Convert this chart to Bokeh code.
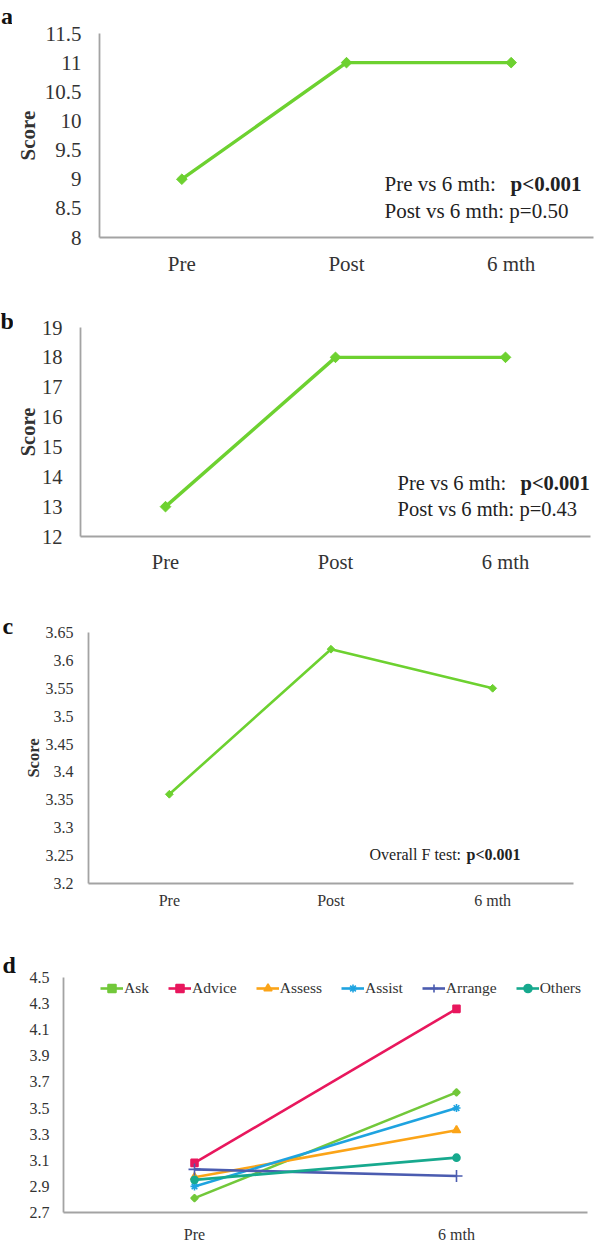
import math

from bokeh.core.properties import value
from bokeh.embed import file_html
from bokeh.layouts import column, row
from bokeh.models import FactorRange, FixedTicker, Label, Legend, LegendItem, Range1d
from bokeh.plotting import figure
from bokeh.resources import INLINE

SERIF = "Liberation Serif"
INK = "#333333"
AXIS_GREY = "#a3a3a3"
SCORE_GREEN = "#6dd130"
PAGE_W = 594

# ---- panel a: knowledge score ----
a_times = ["Pre", "Post", "6 mth"]
a_scores = [9, 11, 11]
a_ticks = [8, 8.5, 9, 9.5, 10, 10.5, 11, 11.5]
a_tick_labels = ["8", "8.5", "9", "9.5", "10", "10.5", "11", "11.5"]

# ---- panel b ----
b_times = ["Pre", "Post", "6 mth"]
b_scores = [13, 18, 18]
b_ticks = [12, 13, 14, 15, 16, 17, 18, 19]
b_tick_labels = ["12", "13", "14", "15", "16", "17", "18", "19"]

# ---- panel c ----
c_times = ["Pre", "Post", "6 mth"]
c_scores = [3.36, 3.62, 3.55]
c_ticks = [3.2, 3.25, 3.3, 3.35, 3.4, 3.45, 3.5, 3.55, 3.6, 3.65]
c_tick_labels = ["3.2", "3.25", "3.3", "3.35", "3.4", "3.45", "3.5", "3.55", "3.6", "3.65"]

# ---- panel d: the 5A components ----
d_times = ["Pre", "6 mth"]
d_names = ["Ask", "Advice", "Assess", "Assist", "Arrange", "Others"]
d_ask = [2.81, 3.62]
d_advice = [3.08, 4.26]
d_assess = [2.97, 3.33]
d_assist = [2.90, 3.50]
d_arrange = [3.03, 2.98]
d_others = [2.95, 3.12]
d_ticks = [2.7, 2.9, 3.1, 3.3, 3.5, 3.7, 3.9, 4.1, 4.3, 4.5]
d_tick_labels = ["2.7", "2.9", "3.1", "3.3", "3.5", "3.7", "3.9", "4.1", "4.3", "4.5"]

panel_letters = ["a", "b", "c", "d"]


def base_figure(factors, ticks, tick_labels, height, strip, left, right, top, bottom,
                font_px, y_standoff, x_standoff):
    p = figure(width=PAGE_W - strip, height=height,
               x_range=FactorRange(factors=factors),
               y_range=Range1d(ticks[0], ticks[-1]),
               output_backend="svg", toolbar_location=None,
               min_border_left=left - strip, min_border_right=right,
               min_border_top=top, min_border_bottom=bottom)
    # each panel keeps its own frame geometry inside the layout
    p.frame_align = False
    p.outline_line_color = None
    p.xgrid.visible = False
    p.ygrid.visible = False
    for ax in (p.xaxis[0], p.yaxis[0]):
        ax.axis_line_color = AXIS_GREY
        ax.axis_line_width = 1.8
        ax.major_tick_line_color = None
        ax.minor_tick_line_color = None
        ax.major_tick_out = 0
        ax.major_tick_in = 0
        ax.major_label_text_font = SERIF
        ax.major_label_text_color = INK
        ax.major_label_text_font_size = font_px
    p.yaxis.ticker = FixedTicker(ticks=ticks)
    p.yaxis.major_label_overrides = dict(zip(ticks, tick_labels))
    p.yaxis.major_label_standoff = y_standoff
    p.xaxis.major_label_standoff = x_standoff
    return p


def letter_strip(letter, width, height, x, baseline):
    # narrow margin figure whose data units are pixels measured from the top
    s = figure(width=width, height=height, x_range=Range1d(0, width),
               y_range=Range1d(height, 0), output_backend="svg",
               toolbar_location=None, x_axis_location=None, y_axis_location=None,
               min_border=0)
    s.frame_align = False
    s.outline_line_color = None
    s.xgrid.visible = False
    s.ygrid.visible = False
    s.text(x=[x], y=[baseline], text=[letter], text_font=value(SERIF),
           text_font_style="bold", text_font_size="24px", text_color="#111111",
           text_align="left", text_baseline="alphabetic")
    return s


def score_label(p, size, standoff):
    p.yaxis.axis_label = "Score"
    p.yaxis.axis_label_text_font = SERIF
    p.yaxis.axis_label_text_font_style = "bold"
    p.yaxis.axis_label_text_font_size = size
    p.yaxis.axis_label_text_color = INK
    p.yaxis.axis_label_standoff = standoff


def note(p, text, x, y, size, bold=False):
    p.add_layout(Label(x=x, y=y, x_units="screen", y_units="screen", text=text,
                       text_font=SERIF, text_font_size=size,
                       text_font_style="bold" if bold else "normal",
                       text_color="#222222", text_align="left",
                       text_baseline="middle"))


def green_trend(p, times, scores, width, marker_size):
    p.line(times, scores, line_color=SCORE_GREEN, line_width=width)
    p.scatter(times, scores, marker="square", angle=math.pi / 4, size=marker_size,
              color=SCORE_GREEN)


# (strip width, letter x, letter baseline) for each panel row
strips = [(12, 0.5, 15), (13, 0, 20), (16, 2, 20), (16, 2, 39)]

# panel a
pa = base_figure(a_times, a_ticks, a_tick_labels, 300, strips[0][0], 98, 1, 33, 63,
                 "21px", 18, 14)
score_label(pa, "21px", 2)
green_trend(pa, a_times, a_scores, 3.4, 7.5)
note(pa, "Pre  vs 6 mth:", 285, 54, "21px")
note(pa, "p<0.001", 411, 54, "21px", bold=True)
note(pa, "Post vs 6 mth: p=0.50", 285, 27, "21px")

# panel b
pb = base_figure(b_times, b_ticks, b_tick_labels, 305, strips[1][0], 80, 4, 27, 69,
                 "20.5px", 18, 14)
score_label(pb, "20.5px", 0)
green_trend(pb, b_times, b_scores, 3.4, 7.5)
note(pb, "Pre  vs 6 mth:", 317, 54, "20.5px")
note(pb, "p<0.001", 440, 54, "20.5px", bold=True)
note(pb, "Post vs 6 mth: p=0.43", 317, 28, "20.5px")

# panel c
pc = base_figure(c_times, c_ticks, c_tick_labels, 320, strips[2][0], 88, 21, 27, 42,
                 "16px", 15, 8)
score_label(pc, "16.5px", 0)
green_trend(pc, c_times, c_scores, 2.6, 5.5)
note(pc, "Overall F test:", 281, 29, "16px")
note(pc, "p<0.001", 378, 29, "16px", bold=True)

# panel d
pd_ = base_figure(d_times, d_ticks, d_tick_labels, 320, strips[3][0], 63, 7, 52, 27,
                  "16px", 14, 13)

d_values = [d_ask, d_advice, d_assess, d_assist, d_arrange, d_others]
d_colors = ["#72c83a", "#e8175d", "#fba418", "#1ea3e0", "#4b5cb0", "#17a98e"]
d_markers = ["square", "square", "triangle", "asterisk", "cross", "circle"]
d_marker_sizes = [5, 7, 8, 8, 12, 7]
d_angles = [math.pi / 4, 0, 0, 0, 0, 0]

items = []
for name, vals, col, mk, ms, ang in zip(d_names, d_values, d_colors, d_markers,
                                        d_marker_sizes, d_angles):
    lr = pd_.line(d_times, vals, line_color=col, line_width=2.6)
    sr = pd_.scatter(d_times, vals, marker=mk, size=ms, angle=ang,
                     line_color=col, fill_color=col, line_width=1.6)
    items.append(LegendItem(label=name, renderers=[lr, sr]))

legend = Legend(items=items, orientation="horizontal", location=(37, 214),
                padding=0, margin=0, spacing=19, glyph_width=23, glyph_height=20,
                label_standoff=1, label_text_font=SERIF, label_text_font_size="15.5px",
                label_text_color=INK, background_fill_alpha=0, border_line_alpha=0)
pd_.add_layout(legend)

rows = []
for letter, p, (sw, lx, base) in zip(panel_letters, [pa, pb, pc, pd_], strips):
    rows.append(row(letter_strip(letter, sw, p.height, lx, base), p, spacing=0))

page = column(*rows, spacing=0)
open("out.html", "w").write(file_html(page, INLINE))
